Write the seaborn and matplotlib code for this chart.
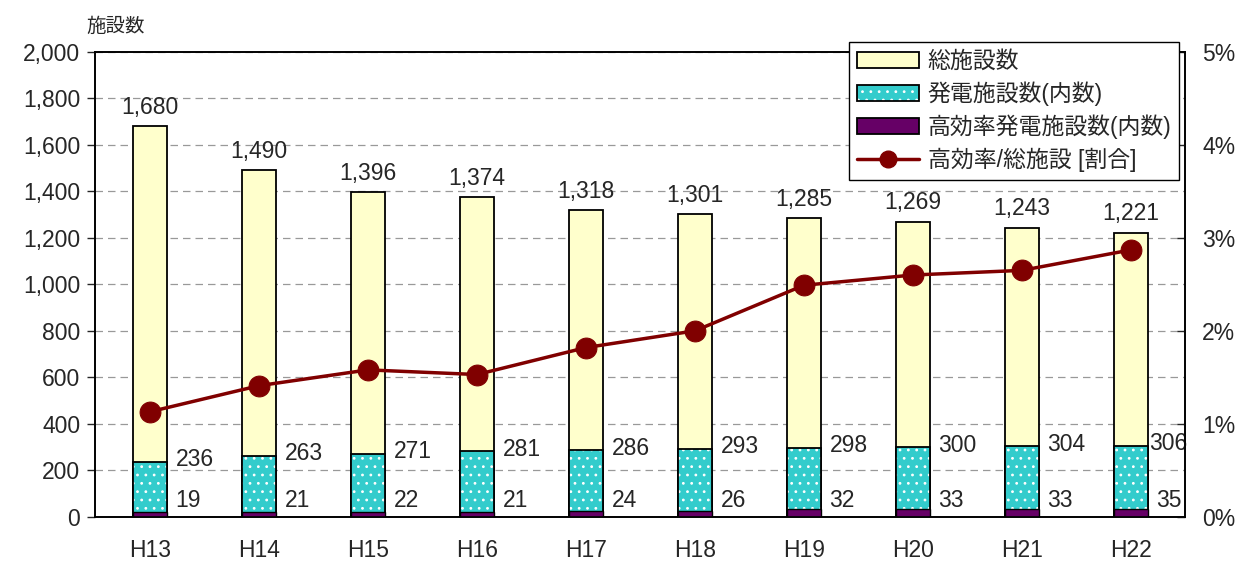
import matplotlib
matplotlib.use("Agg")
import matplotlib.pyplot as plt
from matplotlib.patches import Patch
from matplotlib.lines import Line2D
from matplotlib.legend_handler import HandlerTuple
from matplotlib.ticker import FuncFormatter, FixedLocator
import seaborn as sns
import pandas as pd

# data
years = ["H13", "H14", "H15", "H16", "H17", "H18", "H19", "H20", "H21", "H22"]
total = [1680, 1490, 1396, 1374, 1318, 1301, 1285, 1269, 1243, 1221]
power = [236, 263, 271, 281, 286, 293, 298, 300, 304, 306]
high_eff = [19, 21, 22, 21, 24, 26, 32, 33, 33, 35]
ratio = [1.13, 1.41, 1.58, 1.53, 1.82, 2.00, 2.49, 2.60, 2.65, 2.87]

df = pd.DataFrame({"year": years, "total": total, "power": power,
                   "high": high_eff, "ratio": ratio})

sns.set_style("white")
plt.rcParams["font.family"] = ["Liberation Sans", "Noto Sans CJK JP"]
plt.rcParams["hatch.linewidth"] = 0.8

yellow = "#FFFFCC"
teal = "#33CCCC"
purple = "#660066"
red = "#800000"
w = 0.32
fs = 16.5

fig = plt.figure(figsize=(12.4, 5.63), dpi=100)
ax = fig.add_axes([0.077, 0.082, 0.879, 0.826])

sns.barplot(data=df, x="year", y="total", color=yellow, width=w,
            edgecolor="black", linewidth=1.3, saturation=1, ax=ax, zorder=2)
sns.barplot(data=df, x="year", y="power", color=teal, width=w,
            edgecolor="white", linewidth=0, hatch="..", saturation=1, ax=ax, zorder=3)
sns.barplot(data=df, x="year", y="power", color="black", width=w, fill=False,
            linewidth=1.3, ax=ax, zorder=4)
sns.barplot(data=df, x="year", y="high", color=purple, width=w,
            edgecolor="black", linewidth=1.0, saturation=1, ax=ax, zorder=5)

ax.set_xlim(-0.5, len(years) - 0.5)
ax.set_ylim(0, 2000)
ax.set_yticks(range(0, 2001, 200))
ax.yaxis.set_major_formatter(FuncFormatter(lambda v, p: f"{int(v):,}"))
ax.grid(axis="y", color="#999999", linestyle=(0, (6, 4)), linewidth=0.9, zorder=0)
ax.set_axisbelow(True)
ax.set_xlabel("")
ax.set_ylabel("")
for s in ax.spines.values():
    s.set_color("black")
    s.set_linewidth(1.2)
ax.tick_params(axis="y", direction="out", length=6, width=1, labelsize=fs, pad=5)
ax.tick_params(axis="x", which="major", length=0, labelsize=fs, pad=16)
ax.xaxis.set_minor_locator(FixedLocator([i + 0.5 for i in range(len(years) - 1)]))
ax.tick_params(axis="x", which="minor", direction="in", length=5, width=1)

for i in range(len(years)):
    ax.annotate(f"{total[i]:,}", (i, total[i]), xytext=(0, 19), textcoords="offset pixels",
                ha="center", va="center", fontsize=fs)
    dx = 8 if i < len(years) - 1 else 1
    ax.annotate(f"{power[i]}", (i + w / 2, power[i]), xytext=(dx, 2), textcoords="offset pixels",
                ha="left", va="center", fontsize=fs)
    ax.annotate(f"{high_eff[i]}", (i + w / 2, 0), xytext=(8, 16), textcoords="offset pixels",
                ha="left", va="center", fontsize=fs)

ax2 = ax.twinx()
sns.lineplot(x=list(range(len(years))), y=ratio, color=red, linewidth=2.5, marker="o",
             markersize=15, markeredgecolor=red, ax=ax2, zorder=6)
ax2.set_ylim(0, 5)
ax2.set_yticks(range(0, 6))
ax2.yaxis.set_major_formatter(FuncFormatter(lambda v, p: f"{int(v)}%"))
ax2.tick_params(axis="y", direction="in", length=6, width=1, labelsize=fs, pad=12)
ax2.set_xlim(-0.5, len(years) - 0.5)
for s in ax2.spines.values():
    s.set_color("black")
    s.set_linewidth(1.2)

fig.text(0.07, 0.953, "施設数", fontsize=14, ha="left", va="center")

handles = [
    Patch(facecolor=yellow, edgecolor="black", linewidth=1.3),
    (Patch(facecolor=teal, edgecolor="white", hatch="..", linewidth=0),
     Patch(facecolor="none", edgecolor="black", linewidth=1.3)),
    Patch(facecolor=purple, edgecolor="black", linewidth=1.3),
    Line2D([0], [0], color=red, linewidth=2.5, marker="o", markersize=12),
]
labels = ["総施設数", "発電施設数(内数)", "高効率発電施設数(内数)", "高効率/総施設 [割合]"]
leg = ax2.legend(handles, labels, loc="upper right", bbox_to_anchor=(0.9945, 1.022),
                 fontsize=fs, frameon=True, fancybox=False, edgecolor="black",
                 framealpha=1, handlelength=2.7, handleheight=0.7, labelspacing=0.38,
                 borderpad=0.35, handletextpad=0.4, borderaxespad=0,
                 handler_map={tuple: HandlerTuple(ndivide=1, pad=0)})
leg.get_frame().set_linewidth(1.0)

fig.savefig("out.png", dpi=100)
